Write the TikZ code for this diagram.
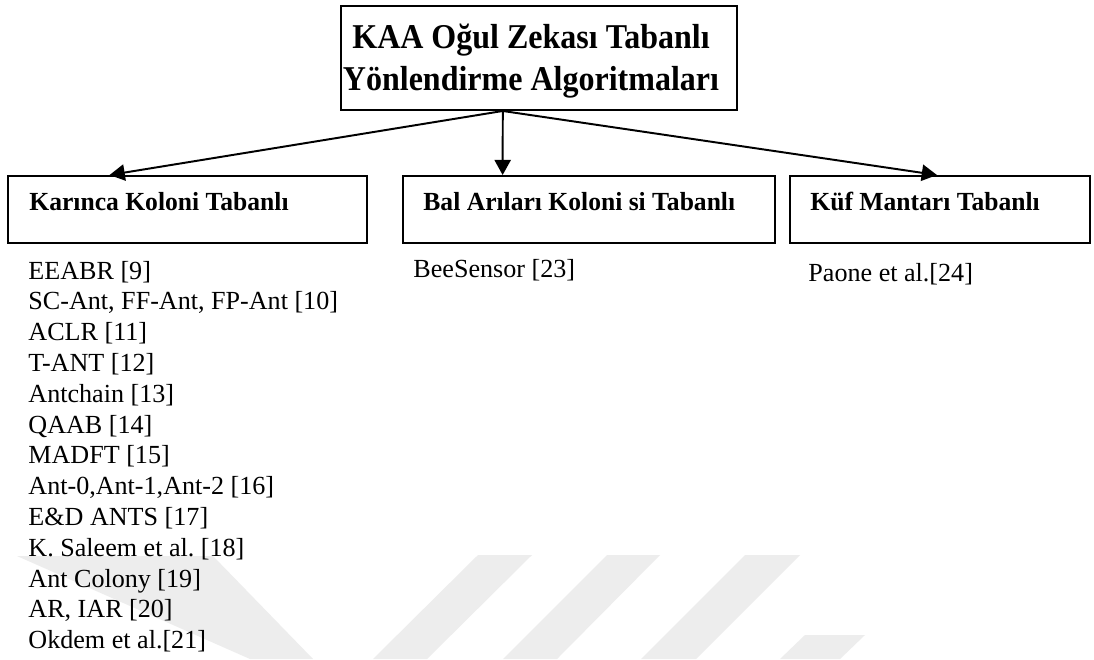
\documentclass[tikz,border=0pt]{standalone}
\usepackage{fontspec}
\setmainfont{Liberation Serif}
\usetikzlibrary{arrows.meta,calc}
\frenchspacing
% one drawing unit = one pixel of a 1094 x 659 canvas
\newcommand\pxu{0.4598pt}
\begin{document}
\begin{tikzpicture}[x=0.4598pt,y=-0.4598pt,
  box/.style={draw,line width=0.9pt,inner sep=0pt},
  link/.style={line width=0.9pt,-{Triangle[length=7pt,width=7.5pt]}},
  titletext/.style={font=\fontsize{16}{19.3}\selectfont\bfseries,align=center,inner sep=0pt,xscale=0.92},
  head/.style={font=\fontsize{12}{14}\selectfont\bfseries,anchor=base west,inner sep=0pt,xscale=0.98},
  entry/.style={font=\fontsize{12}{14.2}\selectfont,anchor=base west,inner sep=0pt},
  wmark/.style={fill={rgb,255:red,237;green,237;blue,237}}
]
\fill[white] (0,0) rectangle (1094,659);
\useasboundingbox (0,0) rectangle (1094,659);

% faint background emblem
\fill[wmark] (17,556) -- (213,556) -- (313,659) -- (250,659) -- cycle;
\fill[wmark] (478,555) -- (532,555) -- (427,659) -- (373,659) -- cycle;
\fill[wmark] (607,555) -- (660,555) -- (557,659) -- (503,659) -- cycle;
\fill[wmark] (745,555) -- (800,555) -- (696,659) -- (641,659) -- cycle;
\fill[wmark] (805,635) -- (865,635) -- (840,659) -- (780,659) -- cycle;

% root box
\node[box,minimum width=396*\pxu,minimum height=104*\pxu] (root) at (539,58) {};
\node[titletext] (title) at (531,61) {KAA Oğul Zekası Tabanlı\\Yönlendirme Algoritmaları};

% category boxes
\node[box,minimum width=359*\pxu,minimum height=67*\pxu] (ant) at (187.5,209.5) {};
\node[box,minimum width=372*\pxu,minimum height=67*\pxu] (bee) at (589,209.5) {};
\node[box,minimum width=300*\pxu,minimum height=67*\pxu] (kuf) at (940,209.5) {};

\node[head] (antlbl) at (29,211) {Karınca Koloni Tabanlı};
\node[head] (beelbl) at (423,211) {Bal Arıları Koloni si Tabanlı};
\node[head] (kuflbl) at (810,211) {Küf Mantarı Tabanlı};

% connectors
\coordinate (fork) at ($(root.south west)!0.409!(root.south east)$);
\draw[link] (fork) -- ($(ant.north west)!0.284!(ant.north east)$);
\draw[link] (fork) -- ($(bee.north west)!0.269!(bee.north east)$);
\draw[link] (fork) -- ($(kuf.north west)!0.49!(kuf.north east)$);

% algorithm lists
\foreach \t [count=\i from 0] in {EEABR [9],
  {SC-Ant, FF-Ant, FP-Ant [10]},
  ACLR [11], T-ANT [12], Antchain [13], QAAB [14], MADFT [15],
  {Ant-0,Ant-1,Ant-2 [16]}, E\&D ANTS [17], K. Saleem et al. [18],
  Ant Colony [19], {AR, IAR [20]}, Okdem et al.[21]}
  \node[entry] (antitem\i) at (28,279+30.8*\i) {\t};

\node[entry] (beeitem) at (413,277) {BeeSensor [23]};
\node[entry] (kufitem) at (808,281) {Paone et al.[24]};
\end{tikzpicture}
\end{document}
